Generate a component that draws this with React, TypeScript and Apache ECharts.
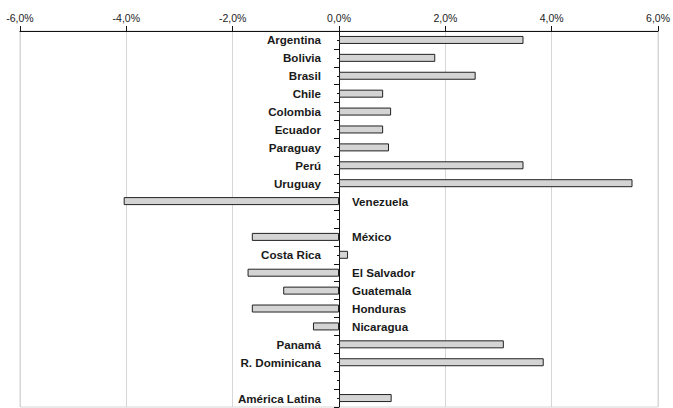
import React, { useEffect, useRef } from "react";
import * as echarts from "echarts";

// Country rows, top to bottom; empty strings are spacer rows.
const countries: string[] = [
  "Argentina", "Bolivia", "Brasil", "Chile", "Colombia", "Ecuador", "Paraguay",
  "Perú", "Uruguay", "Venezuela", "", "México", "Costa Rica", "El Salvador",
  "Guatemala", "Honduras", "Nicaragua", "Panamá", "R. Dominicana", "", "América Latina",
];

// Percentage change per row (null for spacer rows).
const values: (number | null)[] = [
  3.47, 1.81, 2.57, 0.83, 0.98, 0.83, 0.94,
  3.47, 5.52, -4.05, null, -1.64, 0.17, -1.72,
  -1.05, -1.64, -0.49, 3.1, 3.85, null, 0.99,
];

const xMin = -6;
const xMax = 6;
const xStep = 2;

const fmtPct = (v: number) => v.toFixed(1).replace(".", ",") + "%";

export default function App() {
  const ref = useRef<HTMLDivElement>(null);

  useEffect(() => {
    if (!ref.current) return;
    const chart = echarts.init(ref.current, undefined, { renderer: "svg" });

    // Positive bars carry their name on the left of the zero line, negative ones on the right.
    const barData = values.map((v) =>
      v === null
        ? "-"
        : {
            value: v,
            label: {
              position: v >= 0 ? "left" : "right",
              distance: v >= 0 ? 18 : 13,
            },
          }
    );

    chart.setOption({
      animation: false,
      backgroundColor: "#ffffff",
      textStyle: { fontFamily: "Liberation Sans, Arial, sans-serif" },
      grid: {
        left: 20,
        right: 13,
        top: 31,
        bottom: 1,
        show: true,
        borderColor: "#d6d6d6",
        borderWidth: 1,
        backgroundColor: "transparent",
      },
      xAxis: {
        type: "value",
        position: "top",
        min: xMin,
        max: xMax,
        interval: xStep,
        axisLine: { show: true, onZero: false, lineStyle: { color: "#111", width: 1 } },
        axisTick: { show: true, length: 5, lineStyle: { color: "#111" } },
        axisLabel: {
          formatter: (v: number) => fmtPct(v),
          color: "#222",
          fontSize: 10.5,
          margin: 8,
          fontFamily: "Liberation Sans, Arial, sans-serif",
        },
        splitLine: { show: true, lineStyle: { color: "#d6d6d6", width: 1 } },
      },
      yAxis: [
        {
          type: "category",
          data: countries,
          inverse: true,
          axisLine: { show: true, onZero: true, onZeroAxisIndex: 0, lineStyle: { color: "#111", width: 1 } },
          axisTick: { show: true, length: 5, alignWithLabel: false, lineStyle: { color: "#111" } },
          axisLabel: { show: false },
          splitLine: { show: false },
        },
        {
          type: "category",
          data: countries,
          inverse: true,
          position: "left",
          axisLine: { show: false, onZero: true, onZeroAxisIndex: 0 },
          axisTick: { show: true, length: 2, alignWithLabel: true, lineStyle: { color: "#111" } },
          axisLabel: { show: false },
          splitLine: { show: false },
        },
      ],
      series: [
        {
          type: "bar",
          yAxisIndex: 0,
          data: barData,
          barWidth: 8,
          itemStyle: { color: "#d4d4d4", borderColor: "#222", borderWidth: 1 },
          label: {
            show: true,
            formatter: (p: any) => countries[p.dataIndex],
            color: "#1a1a1a",
            fontWeight: "bold",
            fontSize: 11.6,
            fontFamily: "Liberation Sans, Arial, sans-serif",
          },
        },
      ],
    });

    return () => chart.dispose();
  }, []);

  return (
    <div
      ref={ref}
      style={{ position: "fixed", left: 0, top: 0, width: 673, height: 408 }}
    />
  );
}
